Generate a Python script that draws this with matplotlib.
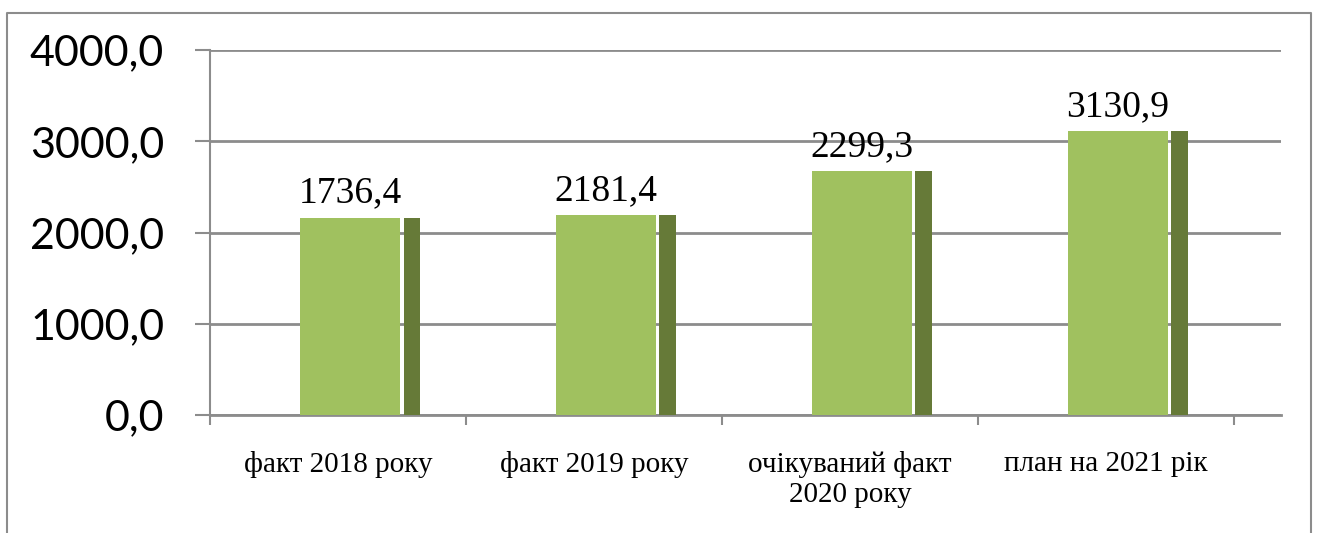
import matplotlib
matplotlib.use("Agg")
import matplotlib.pyplot as plt
from matplotlib.lines import Line2D

categories = ["факт 2018 року", "факт 2019 року", "очікуваний факт\n2020 року", "план на 2021 рік"]
heights = [2164, 2189, 2673, 3110]
value_labels = ["1736,4", "2181,4", "2299,3", "3130,9"]
y_ticks = [0, 1000, 2000, 3000, 4000]

light = "#a0c15f"
dark = "#667a38"
grid_col = "#8c8c8c"

fig = plt.figure(figsize=(13.18, 5.33), dpi=100)
ax = fig.add_axes([210 / 1318, 1 - 415 / 533, (1281 - 210) / 1318, (415 - 50) / 533])

xs = list(range(len(categories)))
# front face and darker side of each bar
ax.bar([x - 0.148 for x in xs], heights, width=0.39, align="edge", color=light, zorder=3)
ax.bar([x + 0.256 for x in xs], heights, width=0.064, align="edge", color=dark, zorder=3)

for x, h, lab in zip(xs, heights, value_labels):
    ax.annotate(lab, (x + 0.047, h), xytext=(0, 11), textcoords="offset points",
                ha="center", va="baseline", fontsize=27, family="Liberation Serif")

ax.set_xlim(-0.5, 3.684)
ax.set_ylim(0, 4000)
ax.set_yticks(y_ticks)
ax.set_yticklabels([f"{v:.1f}".replace(".", ",") for v in y_ticks], family="Lato", fontsize=31)
ax.yaxis.grid(True, color=grid_col, linewidth=2, zorder=0)
ax.set_axisbelow(True)

ax.set_xticks([-0.5, 0.5, 1.5, 2.5, 3.5])
ax.set_xticklabels([])
ax.set_xticks(xs, minor=True)
ax.set_xticklabels(categories, minor=True, family="Liberation Serif", fontsize=21)
ax.tick_params(axis="x", which="minor", length=0, pad=26)
ax.tick_params(axis="x", which="major", length=7, width=1.5, color=grid_col)
ax.tick_params(axis="y", length=11, width=1.5, color=grid_col, pad=22)

for s in ["top", "right"]:
    ax.spines[s].set_visible(False)
ax.spines["left"].set_color(grid_col)
ax.spines["left"].set_linewidth(1.5)
ax.spines["bottom"].set_color(grid_col)
ax.spines["bottom"].set_linewidth(2)

# outer chart frame (no bottom edge visible)
fx = [7 / 1318, 7 / 1318, 1311 / 1318, 1311 / 1318]
fy = [0, 1 - 13 / 533, 1 - 13 / 533, 0]
fig.add_artist(Line2D(fx, fy, color=grid_col, linewidth=1.5))

fig.savefig("out.png", dpi=100)
